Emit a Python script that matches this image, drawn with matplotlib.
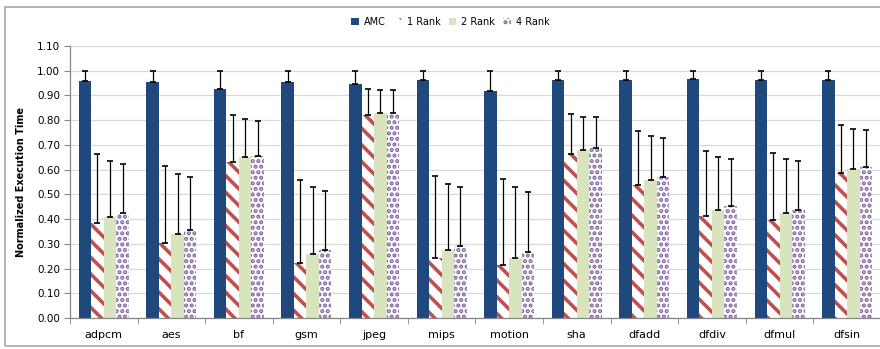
import numpy as np
import matplotlib
matplotlib.use("Agg")
import matplotlib.pyplot as plt
from matplotlib.patches import Rectangle

benchmarks = ["adpcm", "aes", "bf", "gsm", "jpeg", "mips", "motion",
              "sha", "dfadd", "dfdiv", "dfmul", "dfsin"]
series = ["AMC", "1 Rank", "2 Rank", "4 Rank"]

amc = [0.957, 0.954, 0.927, 0.954, 0.947, 0.964, 0.918, 0.964, 0.962, 0.966, 0.962, 0.964]
rank1 = [0.384, 0.305, 0.632, 0.224, 0.823, 0.241, 0.214, 0.665, 0.536, 0.414, 0.397, 0.585]
rank2 = [0.408, 0.341, 0.650, 0.259, 0.828, 0.274, 0.243, 0.681, 0.557, 0.438, 0.424, 0.603]
rank4 = [0.424, 0.354, 0.657, 0.274, 0.831, 0.291, 0.265, 0.686, 0.570, 0.454, 0.436, 0.612]

# upper end of each error bar
amc_hi = [1.00, 1.00, 1.00, 1.00, 1.00, 1.00, 1.00, 1.00, 1.00, 1.00, 1.00, 1.00]
rank1_hi = [0.662, 0.614, 0.820, 0.558, 0.928, 0.576, 0.562, 0.826, 0.755, 0.676, 0.666, 0.782]
rank2_hi = [0.635, 0.584, 0.803, 0.528, 0.922, 0.542, 0.530, 0.814, 0.735, 0.653, 0.643, 0.766]
rank4_hi = [0.623, 0.572, 0.796, 0.512, 0.922, 0.528, 0.511, 0.812, 0.728, 0.643, 0.634, 0.759]

values = [amc, rank1, rank2, rank4]
highs = [amc_hi, rank1_hi, rank2_hi, rank4_hi]

faces = ["#1F497D", "white", "#D7E4BD", "white"]
hatch_colors = ["#1F497D", "#C0504D", "#D7E4BD", "#8064A2"]
hatches = [None, "\\\\", None, "..."]
hatch_lw = [1.0, 2.6, 1.0, 2.1]

fig = plt.figure(figsize=(8.8, 3.49), dpi=100)
ax = fig.add_axes([0.0795, 0.089, 0.9215, 0.779])

# outer chart frame
fig.patches.append(Rectangle((0.006, 0.009), 1.2, 0.971, transform=fig.transFigure,
                             fill=False, edgecolor="#A6A6A6", linewidth=1.2, zorder=0))

x = np.arange(len(benchmarks))
w = 0.185
offsets = (np.arange(4) - 1.5) * w

for i in range(4):
    vals = np.array(values[i])
    bars = ax.bar(x + offsets[i], vals, w, color=faces[i], edgecolor=hatch_colors[i],
                  linewidth=0, hatch=hatches[i], zorder=2, label=series[i])
    for b in bars:
        if hasattr(b, "set_hatch_linewidth"):
            b.set_hatch_linewidth(hatch_lw[i])
    err = np.array(highs[i]) - vals
    ax.errorbar(x + offsets[i], vals, yerr=[np.zeros_like(err), err], fmt="none",
                ecolor="black", elinewidth=0.9, capsize=2, capthick=1.2, zorder=3)

ax.set_xlim(-0.5, len(benchmarks) - 0.5)
ax.set_ylim(0, 1.10)
ax.set_yticks(np.arange(0, 1.101, 0.1))
ax.set_yticklabels([f"{v:.2f}" for v in np.arange(0, 1.101, 0.1)], fontsize=7.5)
ax.set_xticks(x)
ax.set_xticklabels(benchmarks, fontsize=8)
ax.set_xticks(np.arange(-0.5, len(benchmarks), 1), minor=True)
ax.tick_params(axis="x", which="major", length=0, pad=9)
ax.tick_params(axis="x", which="minor", length=4, color="#868686", direction="out")
ax.tick_params(axis="y", length=4, color="#868686", direction="out", pad=3)

ax.grid(axis="y", color="#D9D9D9", linewidth=0.9, zorder=0)
ax.set_axisbelow(True)
for s in ["top", "right"]:
    ax.spines[s].set_visible(False)
for s in ["left", "bottom"]:
    ax.spines[s].set_color("#868686")
    ax.spines[s].set_linewidth(0.9)

ax.set_ylabel("Normalized Execution Time", fontsize=7, fontweight="bold", labelpad=8)

leg = ax.legend(loc="center", bbox_to_anchor=(0.512, 0.937), bbox_transform=fig.transFigure,
                ncol=4, frameon=False, fontsize=7, handlelength=0.75, handleheight=0.75,
                handletextpad=0.55, columnspacing=0.85)
for h, lw in zip(leg.legend_handles, hatch_lw):
    if hasattr(h, "set_hatch_linewidth"):
        h.set_hatch_linewidth(lw)

fig.savefig("out.png", dpi=100)
